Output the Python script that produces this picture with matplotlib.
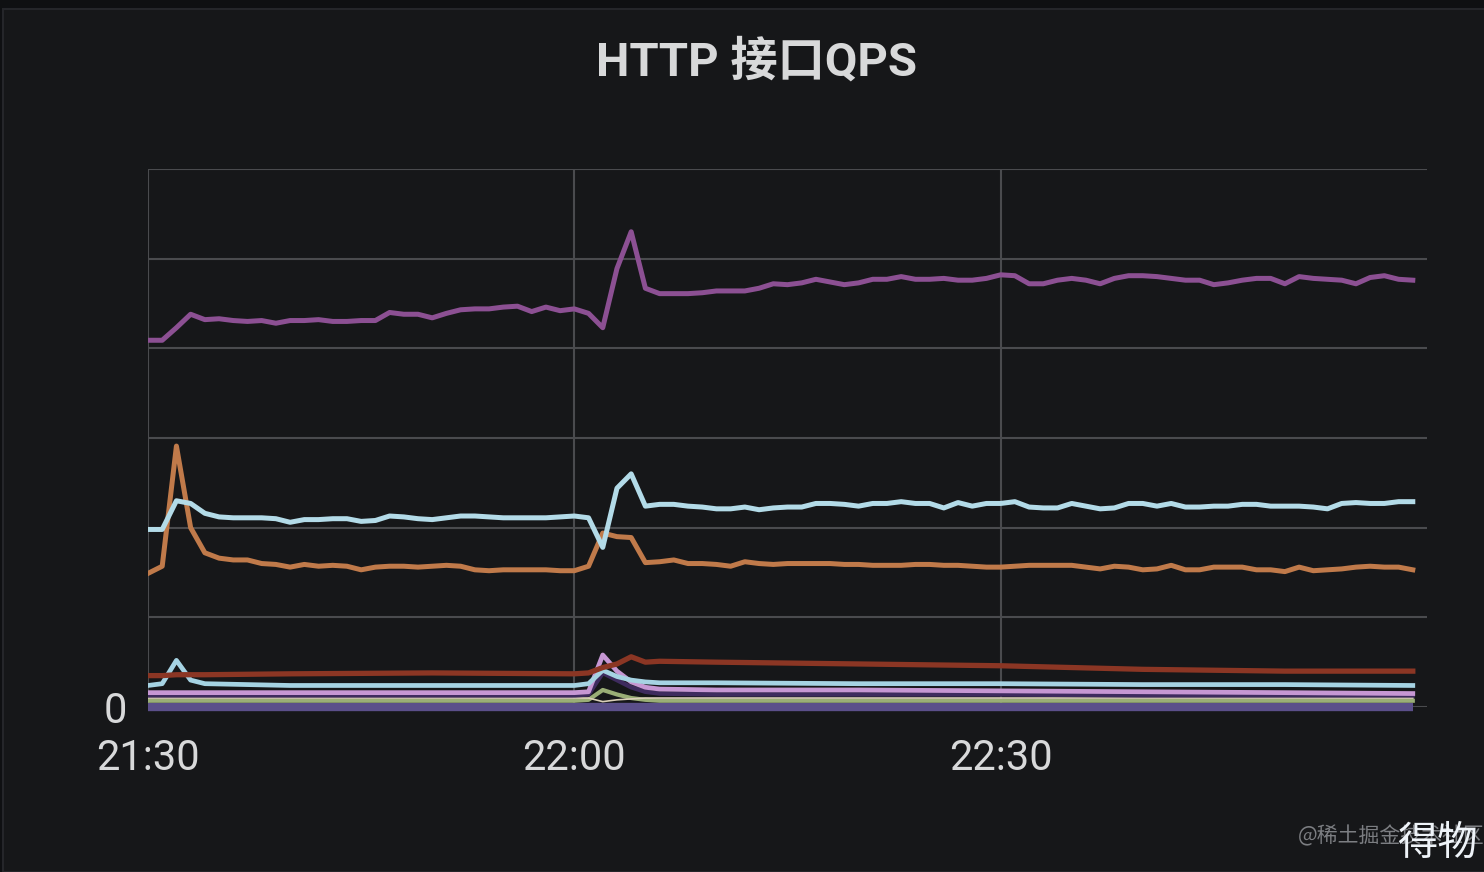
import numpy as np
import matplotlib.pyplot as plt
from matplotlib.patches import Rectangle

# minutes after 21:30, one sample per minute
minutes = np.arange(90)

purple = [409, 409, 423, 438, 432, 433, 431, 430, 431, 428,
          431, 431, 432, 430, 430, 431, 431, 440, 438, 438,
          434, 439, 443, 444, 444, 446, 447, 441, 446, 442,
          444, 439, 423, 489, 530, 467, 461, 461, 461, 462,
          464, 464, 464, 467, 472, 471, 473, 477, 474, 471,
          473, 477, 477, 480, 477, 477, 478, 476, 476, 478,
          482, 481, 472, 472, 476, 478, 476, 472, 478, 481,
          481, 480, 478, 476, 476, 471, 473, 476, 478, 478,
          472, 480, 478, 477, 476, 472, 479, 481, 477, 476]

light_blue = [198, 198, 230, 227, 216, 212, 211, 211, 211, 210,
              206, 209, 209, 210, 210, 207, 208, 213, 212, 210,
              209, 211, 213, 213, 212, 211, 211, 211, 211, 212,
              213, 211, 178, 244, 260, 224, 226, 226, 224, 223,
              221, 221, 223, 220, 222, 223, 223, 227, 227, 226,
              224, 227, 227, 229, 227, 227, 222, 228, 224, 227,
              227, 229, 223, 222, 222, 227, 224, 221, 222, 227,
              227, 224, 227, 223, 223, 224, 224, 226, 226, 224,
              224, 224, 223, 221, 227, 228, 227, 227, 229, 229]

orange = [149, 157, 291, 200, 172, 166, 164, 164, 160, 159,
          156, 159, 157, 158, 157, 153, 156, 157, 157, 156,
          157, 158, 157, 153, 152, 153, 153, 153, 153, 152,
          152, 157, 194, 190, 189, 161, 162, 164, 160, 160,
          159, 157, 162, 160, 159, 160, 160, 160, 160, 159,
          159, 158, 158, 158, 159, 159, 158, 158, 157, 156,
          156, 157, 158, 158, 158, 158, 156, 154, 157, 156,
          153, 154, 158, 153, 153, 156, 156, 156, 153, 153,
          151, 156, 152, 153, 154, 156, 157, 156, 156, 153]

# the small series near zero, read at fewer points
minutes_small = [0, 1, 2, 3, 4, 10, 20, 30, 31, 32, 33, 34, 35, 36, 40, 50, 60, 70, 80, 89]
dark_red = [35, 35, 36, 36, 36, 37, 38, 37, 38, 44, 48, 56, 50, 51, 50, 48, 46, 42, 40, 40]
blue_small = [24, 26, 52, 30, 26, 24, 24, 24, 26, 41, 34, 30, 28, 27, 27, 26, 26, 25, 25, 24]
lavender = [16, 16, 16, 16, 16, 16, 16, 16, 17, 58, 40, 28, 22, 20, 19, 19, 18, 17, 16, 15]
dark_violet = [13, 13, 13, 13, 13, 13, 13, 13, 14, 38, 30, 22, 17, 15, 14, 14, 14, 13, 13, 13]
beige = [10, 10, 10, 10, 10, 10, 10, 10, 10, 6, 8, 9, 10, 10, 10, 10, 10, 10, 10, 10]
green = [7, 7, 7, 7, 7, 7, 7, 7, 8, 19, 14, 10, 8, 7, 7, 7, 7, 7, 7, 7]
base = [0] * len(minutes_small)

xtick_pos = [0, 30, 60]
xtick_labels = ['21:30', '22:00', '22:30']
ytick_pos = [0, 100, 200, 300, 400, 500, 600]
ytick_labels = ['0', '', '', '', '', '', '']  # other labels are blurred out

bg = '#161719'
grid_c = '#4a4b4e'
text_c = '#d8d9da'

fig = plt.figure(figsize=(14.84, 8.72), dpi=100, facecolor='#0f1012')
fig.patches.append(Rectangle((3 / 1484, 0), 1, 1 - 9 / 872, transform=fig.transFigure,
                             facecolor=bg, edgecolor='#25262a', linewidth=1.5, zorder=-10))
ax = fig.add_axes([148 / 1484, 1 - 707 / 872, (1427 - 148) / 1484, (707 - 169) / 872])
ax.set_facecolor(bg)

# bottom band and small lines
ax.plot(minutes_small, base, color='#5b4f8a', lw=6, clip_on=False, solid_capstyle='butt')
ax.plot(minutes_small, green, color='#9aae76', lw=3)
ax.plot(minutes_small, beige, color='#d9cfb8', lw=1.2)
ax.plot(minutes_small, dark_violet, color='#3e2b5e', lw=3.2)
ax.plot(minutes_small, lavender, color='#c697d3', lw=3.4)
ax.plot(minutes_small, blue_small, color='#a6d3e3', lw=3.4)
ax.plot(minutes_small, dark_red, color='#8b3624', lw=3.8)

# main series
ax.plot(minutes, orange, color='#c07a4a', lw=3.6)
ax.plot(minutes, light_blue, color='#b3dbe8', lw=3.6)
ax.plot(minutes, purple, color='#8c5093', lw=3.6)

ax.set_xlim(0, 90)
ax.set_ylim(0, 600)
ax.set_xticks(xtick_pos)
ax.set_xticklabels(xtick_labels)
ax.set_yticks(ytick_pos)
ax.set_yticklabels(ytick_labels)
ax.grid(True, color=grid_c, lw=1.5)
ax.set_axisbelow(True)
for s in ax.spines.values():
    s.set_visible(False)
ax.tick_params(length=0, colors=text_c, labelsize=30)
ax.tick_params(axis='x', pad=22)
ax.tick_params(axis='y', pad=15)
for lab in ax.get_xticklabels() + ax.get_yticklabels():
    lab.set_family('Roboto')

fig.text(757 / 1484, 1 - 62 / 872, 'HTTP 接口QPS', ha='center', va='center',
         fontsize=34, fontweight='bold', color=text_c, family=['Roboto', 'Noto Sans CJK SC'])

# watermark (partly covered by the logo, as in the source)
fig.text(1298 / 1484, 1 - 836 / 872, '@稀土掘金技术社区', ha='left', va='center',
         fontsize=15, color='#7c7e82', family=['Noto Sans CJK SC', 'DejaVu Sans'])
fig.text(1478 / 1484, 1 - 843 / 872, '得物', ha='right', va='center',
         fontsize=29, color='#eef3f8', family=['Noto Sans CJK SC', 'DejaVu Sans'],
         bbox=dict(boxstyle='square,pad=0.05', facecolor='none', edgecolor='none'))

fig.savefig('out.png', dpi=100, facecolor=fig.get_facecolor())
